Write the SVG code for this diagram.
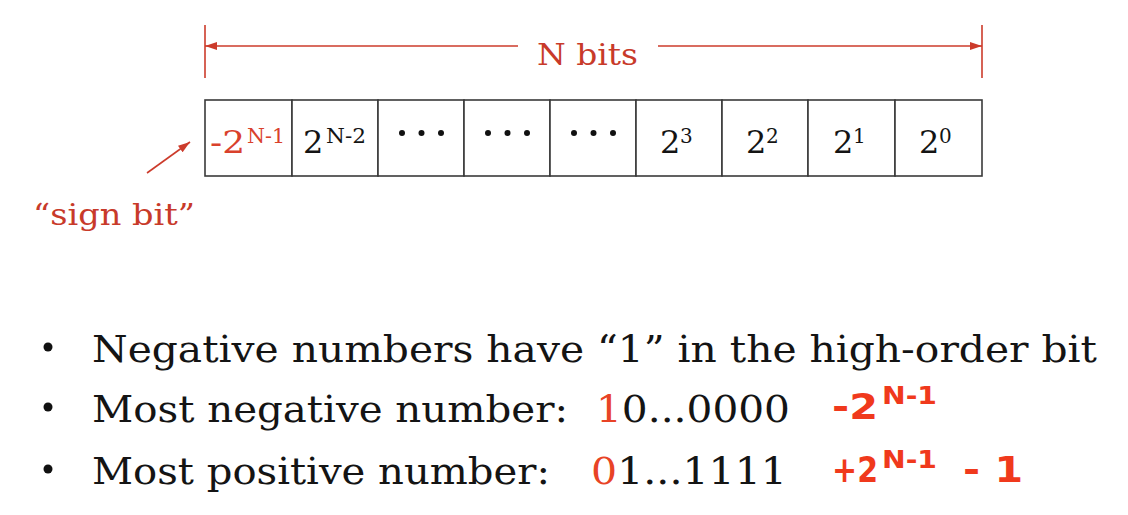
<svg xmlns="http://www.w3.org/2000/svg" width="1128" height="515" viewBox="0 0 1128 515">
<style>
.cell{fill:#ffffff;stroke:#3a3a3a;stroke-width:1.6}
.serif{font-family:"DejaVu Serif","Liberation Serif",serif;fill:#141414}
.main{font-size:32px}
.sup{font-size:20px}
.red{fill:#d9412c}
.lbl{font-family:"DejaVu Serif","Liberation Serif",serif;font-size:29px;fill:#c83a2a}
.bul{font-family:"DejaVu Serif","Liberation Serif",serif;font-size:38px;fill:#141414}
.rd{fill:#e84326}
.f{font-family:"DejaVu Sans","Liberation Sans",sans-serif;font-weight:bold;fill:#f0391c}
.fm{font-size:36px}
.fs{font-size:24px}
.con{stroke:#cc3b2b;stroke-width:1.6;fill:none}
.dot{fill:#111}
</style>
<defs>
<marker id="ah" viewBox="0 0 12 8" refX="12" refY="4" markerWidth="12" markerHeight="8" markerUnits="userSpaceOnUse" orient="auto-start-reverse">
<path d="M0,0 L12,4 L0,8 Z" fill="#cc3b2b"/>
</marker>
</defs>
<rect width="1128" height="515" fill="#ffffff"/>

<g id="connectors">
<line class="con" x1="205" y1="25" x2="205" y2="78"/>
<line class="con" x1="982" y1="25" x2="982" y2="78"/>
<line class="con" x1="518" y1="46" x2="205" y2="46" marker-end="url(#ah)"/>
<line class="con" x1="658" y1="46" x2="982" y2="46" marker-end="url(#ah)"/>
<line class="con" x1="147" y1="173" x2="190" y2="142" marker-end="url(#ah)"/>
</g>

<g id="label-nbits"><text class="lbl" x="537" y="65" textLength="101" lengthAdjust="spacingAndGlyphs">N bits</text></g>
<g id="label-signbit"><text class="lbl" x="33" y="225" textLength="162" lengthAdjust="spacingAndGlyphs">“sign bit”</text></g>

<g id="cell-1"><rect class="cell" x="205" y="100" width="87" height="76"/>
<text class="serif main red" x="210" y="153" textLength="35" lengthAdjust="spacingAndGlyphs">-2</text>
<text class="serif sup red" x="247" y="143" textLength="38" lengthAdjust="spacingAndGlyphs">N-1</text></g>
<g id="cell-2"><rect class="cell" x="292" y="100" width="86" height="76"/>
<text class="serif main" x="303" y="153">2</text>
<text class="serif sup" x="326" y="143" textLength="40" lengthAdjust="spacingAndGlyphs">N-2</text></g>
<g id="cell-3"><rect class="cell" x="378" y="100" width="86" height="76"/>
<circle class="dot" cx="402" cy="133" r="3"/><circle class="dot" cx="421.5" cy="133" r="3"/><circle class="dot" cx="441" cy="133" r="3"/></g>
<g id="cell-4"><rect class="cell" x="464" y="100" width="86" height="76"/>
<circle class="dot" cx="488" cy="133" r="3"/><circle class="dot" cx="507.5" cy="133" r="3"/><circle class="dot" cx="527" cy="133" r="3"/></g>
<g id="cell-5"><rect class="cell" x="550" y="100" width="86" height="76"/>
<circle class="dot" cx="574" cy="133" r="3"/><circle class="dot" cx="593.5" cy="133" r="3"/><circle class="dot" cx="613" cy="133" r="3"/></g>
<g id="cell-6"><rect class="cell" x="636" y="100" width="86" height="76"/>
<text class="serif main" x="660" y="153">2</text>
<text class="serif sup" x="680" y="143">3</text></g>
<g id="cell-7"><rect class="cell" x="722" y="100" width="86" height="76"/>
<text class="serif main" x="746" y="153">2</text>
<text class="serif sup" x="766" y="143">2</text></g>
<g id="cell-8"><rect class="cell" x="808" y="100" width="87" height="76"/>
<text class="serif main" x="833" y="153">2</text>
<text class="serif sup" x="853" y="143">1</text></g>
<g id="cell-9"><rect class="cell" x="895" y="100" width="87" height="76"/>
<text class="serif main" x="919" y="153">2</text>
<text class="serif sup" x="939" y="143">0</text></g>

<g id="bullets">
<circle class="dot" cx="48" cy="347" r="4.5"/>
<circle class="dot" cx="48" cy="407" r="4.5"/>
<circle class="dot" cx="48" cy="469" r="4.5"/>
<text class="bul" x="92" y="362" textLength="1005" lengthAdjust="spacingAndGlyphs">Negative numbers have “1” in the high-order bit</text>
<text class="bul" x="92" y="422" textLength="476" lengthAdjust="spacingAndGlyphs">Most negative number:</text>
<text class="bul" x="596" y="422" textLength="194" lengthAdjust="spacingAndGlyphs"><tspan class="rd">1</tspan>0...0000</text>
<text class="bul" x="92" y="484" textLength="458" lengthAdjust="spacingAndGlyphs">Most positive number:</text>
<text class="bul" x="591" y="484" textLength="196" lengthAdjust="spacingAndGlyphs"><tspan class="rd">0</tspan>1...1111</text>
</g>

<g id="formula-min">
<text class="f fm" x="832" y="419" textLength="46" lengthAdjust="spacingAndGlyphs">-2</text>
<text class="f fs" x="882" y="404" textLength="55" lengthAdjust="spacingAndGlyphs">N-1</text>
</g>
<g id="formula-max">
<text class="f fm" x="832" y="482" textLength="46" lengthAdjust="spacingAndGlyphs">+2</text>
<text class="f fs" x="882" y="468" textLength="55" lengthAdjust="spacingAndGlyphs">N-1</text>
<text class="f fm" x="963" y="482" textLength="60" lengthAdjust="spacingAndGlyphs">- 1</text>
</g>
</svg>
